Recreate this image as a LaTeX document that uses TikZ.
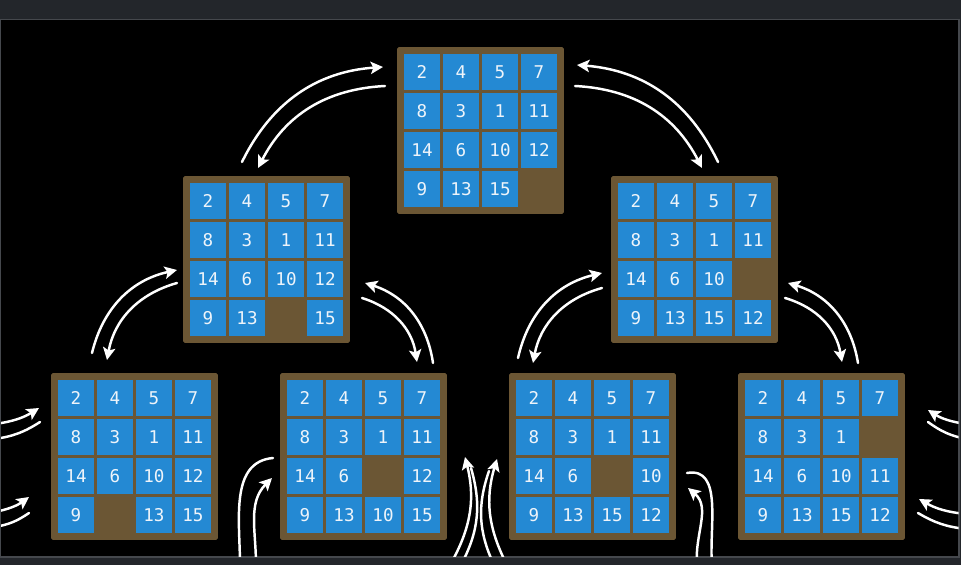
\documentclass[tikz,border=0pt]{standalone}
\usepackage{fontspec}
\setmonofont{DejaVu Sans Mono}
\usetikzlibrary{arrows.meta}

\definecolor{boardbrown}{HTML}{6B5634}
\definecolor{tileblue}{HTML}{2489D3}
\definecolor{chrome}{HTML}{23262B}
\definecolor{edgegray}{HTML}{45484D}
\definecolor{digit}{HTML}{EEF4FA}

\tikzset{
  frame/.style={fill=boardbrown, minimum size=3.34cm, inner sep=0pt, rounded corners=1pt},
  tile/.style={fill=tileblue, minimum size=0.72cm, inner sep=0pt, text=digit,
    font=\ttfamily\fontsize{10}{10}\selectfont},
  move/.style={draw=white, line width=1.4pt, line cap=round,
    -{Stealth[length=7pt,width=7pt,inset=1.5pt]}},
  trail/.style={draw=white, line width=1.4pt, line cap=round},
}

% one 15-puzzle board, 0 = empty cell
\newcommand{\puzzle}[3]{%
  \node[frame] (#1) at (#2) {};
  \foreach \t [count=\i from 0] in {#3} {
    \pgfmathtruncatemacro\tc{mod(\i,4)}
    \pgfmathtruncatemacro\tr{div(\i,4)}
    \ifnum\t>0
      \node[tile] (#1-\i) at ([shift={(\tc*39-58.5,58.5-\tr*39)}]#1.center) {\t};
    \fi
  }
}

\begin{document}
\begin{tikzpicture}[x=0.02cm, y=0.02cm]
  \useasboundingbox (0,0) rectangle (961,565);
  \fill[chrome] (0,0) rectangle (961,565);
  \filldraw[fill=black, draw=edgegray, line width=0.6pt] (0.5,8) rectangle (959,545.5);

  % boards
  \puzzle{top}{480.5,434.5}{2,4,5,7,8,3,1,11,14,6,10,12,9,13,15,0}
  \puzzle{ml}{266.5,305.5}{2,4,5,7,8,3,1,11,14,6,10,12,9,13,0,15}
  \puzzle{mr}{694.5,305.5}{2,4,5,7,8,3,1,11,14,6,10,0,9,13,15,12}
  \puzzle{ba}{134.5,108.5}{2,4,5,7,8,3,1,11,14,6,10,12,9,0,13,15}
  \puzzle{bb}{363.5,108.5}{2,4,5,7,8,3,1,11,14,6,0,12,9,13,10,15}
  \puzzle{bc}{592.5,108.5}{2,4,5,7,8,3,1,11,14,6,0,10,9,13,15,12}
  \puzzle{bd}{821.5,108.5}{2,4,5,7,8,3,1,0,14,6,10,11,9,13,15,12}

  % arrow ends
  \coordinate (tl1) at (242,403); \coordinate (tl2) at (383,498);
  \coordinate (tl3) at (385,479); \coordinate (tl4) at (258,397);
  \coordinate (tr1) at (718,403); \coordinate (tr2) at (577,500);
  \coordinate (tr3) at (575,479); \coordinate (tr4) at (702,397);
  \coordinate (la1) at (92,212);  \coordinate (la2) at (177,295);
  \coordinate (la3) at (177,282); \coordinate (la4) at (107,205);
  \coordinate (lb1) at (433,202); \coordinate (lb2) at (365,282);
  \coordinate (lb3) at (362,267); \coordinate (lb4) at (417,203);
  \coordinate (ra1) at (518,207); \coordinate (ra2) at (602,292);
  \coordinate (ra3) at (602,277); \coordinate (ra4) at (533,202);
  \coordinate (rb1) at (858,202); \coordinate (rb2) at (788,282);
  \coordinate (rb3) at (785,267); \coordinate (rb4) at (842,203);

  \draw[move] (tl1) to[bend left=30] (tl2);
  \draw[move] (tl3) to[bend right=30] (tl4);
  \draw[move] (tr1) to[bend right=30] (tr2);
  \draw[move] (tr3) to[bend left=30] (tr4);
  \draw[move] (la1) to[bend left=32] (la2);
  \draw[move] (la3) to[bend right=32] (la4);
  \draw[move] (lb1) to[bend right=32] (lb2);
  \draw[move] (lb3) to[bend left=32] (lb4);
  \draw[move] (ra1) to[bend left=32] (ra2);
  \draw[move] (ra3) to[bend right=32] (ra4);
  \draw[move] (rb1) to[bend right=32] (rb2);
  \draw[move] (rb3) to[bend left=32] (rb4);

  % arrows leaving the picture
  \begin{scope}
    \clip (1,8.5) rectangle (958.5,545);
    \coordinate (ea1) at (-5,141);  \coordinate (ea2) at (39,157);
    \coordinate (ea3) at (40,143);  \coordinate (ea4) at (-5,126);
    \coordinate (eb1) at (-5,53);   \coordinate (eb2) at (29,68);
    \coordinate (eb3) at (29,52);   \coordinate (eb4) at (-5,38);
    \coordinate (ec1) at (966,141); \coordinate (ec2) at (928,155);
    \coordinate (ec3) at (928,143); \coordinate (ec4) at (966,126);
    \coordinate (ed1) at (966,51);  \coordinate (ed2) at (919,66);
    \coordinate (ed3) at (918,52);  \coordinate (ed4) at (966,36);
    \draw[move] (ea1) to[bend right=12] (ea2);
    \draw[trail] (ea3) to[bend left=12] (ea4);
    \draw[move] (eb1) to[bend right=12] (eb2);
    \draw[trail] (eb3) to[bend left=12] (eb4);
    \draw[move] (ec1) to[bend left=12] (ec2);
    \draw[trail] (ec3) to[bend right=12] (ec4);
    \draw[move] (ed1) to[bend left=12] (ed2);
    \draw[trail] (ed3) to[bend right=12] (ed4);

    \coordinate (fa1) at (273,107); \coordinate (fa2) at (240,0);
    \coordinate (fa3) at (256,0);   \coordinate (fa4) at (272,87);
    \coordinate (fb1) at (450,0);   \coordinate (fb2) at (465,108);
    \coordinate (fb3) at (471,97);  \coordinate (fb4) at (461,0);
    \coordinate (fc1) at (507,0);   \coordinate (fc2) at (497,106);
    \coordinate (fc3) at (489,94);  \coordinate (fc4) at (494,0);
    \coordinate (fd1) at (687,92);  \coordinate (fd2) at (712,0);
    \coordinate (fd3) at (697,0);   \coordinate (fd4) at (688,77);
    \draw[trail] (fa1) to[out=185,in=90] (fa2);
    \draw[move] (fa3) to[out=90,in=225] (fa4);
    \draw[move] (fb1) to[bend right=22] (fb2);
    \draw[trail] (fb3) to[bend left=22] (fb4);
    \draw[move] (fc1) to[bend left=22] (fc2);
    \draw[trail] (fc3) to[bend right=22] (fc4);
    \draw[trail] (fd1) to[out=10,in=95] (fd2);
    \draw[move] (fd3) to[out=95,in=-40] (fd4);
  \end{scope}
\end{tikzpicture}
\end{document}
